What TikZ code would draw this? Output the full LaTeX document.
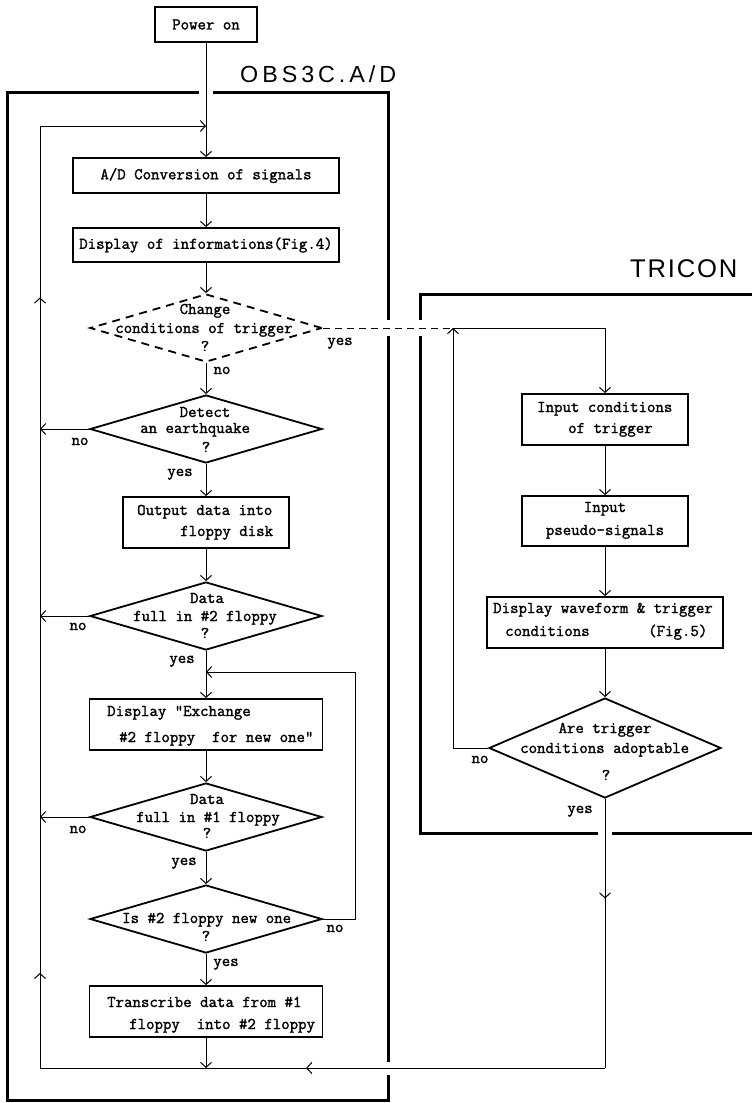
\documentclass[tikz,border=0pt]{standalone}
\usepackage{fontspec}
\newfontfamily\typefont[FakeBold=1.6]{Latin Modern Mono}
\newfontfamily\obsfont[LetterSpace=17]{Liberation Sans}
\newfontfamily\trifont[LetterSpace=7]{Liberation Sans}
\usetikzlibrary{shapes.geometric,arrows.meta,decorations.markings}

\tikzset{
  flow/.style={line width=1pt},
  arr/.style={flow, -{Straight Barb[length=5pt,width=11pt]}},
  midarr/.style={postaction={decorate}, decoration={markings,
      mark=at position #1 with {\arrow{Straight Barb[length=5pt,width=11pt]}}}},
  dashconn/.style={line width=1pt, dash pattern=on 7pt off 5pt},
  frame/.style={line width=3pt},
  procbox/.style={draw, rectangle, line width=1.8pt, inner sep=0pt,
      font=\typefont\fontsize{16.4}{23}\selectfont, align=center},
  decision/.style={draw, diamond, line width=1.8pt, inner sep=0pt,
      minimum width=232pt, minimum height=68pt},
  txt/.style={inner sep=0pt, font=\typefont\fontsize{16.4}{18}\selectfont},
}

\begin{document}
\begin{tikzpicture}[x=1pt, y=-1pt]
\useasboundingbox (0,0) rectangle (752,1103);

% ---- frames of the two programs
\draw[frame] (199,92) -- (7,92) -- (7,1100) -- (388,1100) -- (388,1075);
\draw[frame] (213,92) -- (388,92) -- (388,320);
\draw[frame] (388,336) -- (388,1062);
\node[inner sep=0pt, anchor=base west, font=\obsfont\fontsize{23.3}{28}\selectfont]
  (obsname) at (240,82) {OBS3C.A/D};

\draw[frame] (752,294) -- (420,294) -- (420,320);
\draw[frame] (420,336) -- (420,833) -- (598,833);
\draw[frame] (612,833) -- (752,833);
\node[inner sep=0pt, anchor=base west, font=\trifont\fontsize{25.6}{30}\selectfont]
  (triname) at (630,277) {TRICON};

% ---- OBS3C.A/D flow
\node[procbox, minimum width=102pt, minimum height=35pt] (power) at (206,24.5) {Power on};
\node[procbox, minimum width=266pt, minimum height=35pt] (ad) at (206,175.5) {A/D Conversion of signals};
\node[procbox, minimum width=266pt, minimum height=34pt] (disp) at (206,245) {Display of informations(Fig.4)};

\node[decision, dash pattern=on 8pt off 6pt] (d1) at (206,328) {};
\node[txt, anchor=base] (d1a) at (205,314) {Change};
\node[txt, anchor=base] (d1b) at (204,333) {conditions of trigger};
\node[txt, anchor=base] (d1c) at (205,351) {?};

\node[decision] (d2) at (206,429) {};
\node[txt, anchor=base] (d2a) at (205,417) {Detect};
\node[txt, anchor=base west] (d2b) at (140,433) {an earthquake};
\node[txt, anchor=base] (d2c) at (206,452) {?};

\node[procbox, minimum width=166pt, minimum height=51pt] (out) at (206,522.5) {};
\node[txt, anchor=base west] (outa) at (137,515) {Output data into};
\node[txt, anchor=base west] (outb) at (180,536) {floppy disk};

\node[decision] (d3) at (206,616) {};
\node[txt, anchor=base] (d3a) at (207,603) {Data};
\node[txt, anchor=base west] (d3b) at (133,621) {full in \#2 floppy};
\node[txt, anchor=base] (d3c) at (205,638) {?};

\node[procbox, minimum width=233pt, minimum height=51pt] (ex) at (206,724.5) {};
\node[txt, anchor=base west] (exa) at (107,716) {Display "Exchange};
\node[txt, anchor=base west] (exb) at (119,742) {\#2 floppy\ \ for new one"};

\node[decision] (d4) at (206,817) {};
\node[txt, anchor=base] (d4a) at (207,804) {Data};
\node[txt, anchor=base west] (d4b) at (136,822) {full in \#1 floppy};
\node[txt, anchor=base] (d4c) at (207,838) {?};

\node[decision] (d5) at (206,919) {};
\node[txt, anchor=base west] (d5a) at (122,923) {Is \#2 floppy new one};
\node[txt, anchor=base] (d5b) at (206,941) {?};

\node[procbox, minimum width=233pt, minimum height=51pt] (trans) at (206,1011.5) {};
\node[txt, anchor=base west] (transa) at (107,1007) {Transcribe data from \#1};
\node[txt, anchor=base west] (transb) at (129,1029) {floppy\ \ into \#2 floppy};

% ---- TRICON flow
\node[procbox, minimum width=166pt, minimum height=51pt] (in1) at (605,419.5) {};
\node[txt, anchor=base west] (in1a) at (537,412) {Input conditions};
\node[txt, anchor=base west] (in1b) at (568,433) {of trigger};

\node[procbox, minimum width=166pt, minimum height=50pt] (in2) at (605,521) {};
\node[txt, anchor=base] (in2a) at (605,512) {Input};
\node[txt, anchor=base] (in2b) at (605,535) {pseudo-signals};

\node[procbox, minimum width=236pt, minimum height=51pt] (wave) at (605,622.5) {};
\node[txt, anchor=base west] (wavea) at (493,613) {Display waveform \& trigger};
\node[txt, anchor=base west] (waveb) at (505,636) {conditions};
\node[txt, anchor=base west] (wavec) at (648,636) {(Fig.5)};

\node[decision, minimum height=100pt] (d6) at (605,748) {};
\node[txt, anchor=base] (d6a) at (605,733) {Are trigger};
\node[txt, anchor=base west] (d6b) at (520,753) {conditions adoptable};
\node[txt, anchor=base] (d6c) at (606,780) {?};

% ---- junction points of the loops
\coordinate (cTop) at (206,126);
\coordinate (cTL) at (40,126);
\coordinate (cBL) at (40,1068);
\coordinate (cBR) at (605,1068);
\coordinate (cEx) at (206,672);
\coordinate (cR) at (355,672);
\coordinate (tj) at (453,328);

% ---- connectors, OBS3C.A/D
\draw[arr] (power) -- (ad);
\draw[arr] (ad) -- (disp);
\draw[arr] (disp) -- (d1);
\draw[arr] (d1) -- (d2);
\draw[arr] (d2) -- (out);
\draw[arr] (out) -- (d3);
\draw[arr] (d3) -- (ex);
\draw[arr] (ex) -- (d4);
\draw[arr] (d4) -- (d5);
\draw[arr] (d5) -- (trans);
\draw[arr] (trans.south) -- (trans.south |- cBR);

\draw[arr] (d2.west) -- (d2.west -| cTL);
\draw[arr] (d3.west) -- (d3.west -| cTL);
\draw[arr] (d4.west) -- (d4.west -| cTL);
\draw[arr] (d5.east) -| (cR) -- (cEx);

\draw[flow, midarr=0.37] (d6.south) -- (cBR);
\draw[flow, midarr=0.529] (cBR) -- (cBL);
\draw[flow, postaction={decorate}, decoration={markings,
    mark=at position 0.101 with {\arrow{Straight Barb[length=5pt,width=11pt]}},
    mark=at position 0.818 with {\arrow{Straight Barb[length=5pt,width=11pt]}}}]
  (cBL) -- (cTL);
\draw[arr] (cTL) -- (cTop);

% ---- connectors, TRICON
\draw[dashconn] (d1.east) -- (tj);
\draw[arr] (d6.west) -| (tj);
\draw[arr] (tj) -| (in1);
\draw[arr] (in1) -- (in2);
\draw[arr] (in2) -- (wave);
\draw[arr] (wave) -- (d6);

% ---- branch labels
\tikzset{lbl/.style={txt, anchor=base}}
\node[lbl] (y1) at (340,345) {yes};
\node[lbl] (n1) at (222,374) {no};
\node[lbl] (n2) at (80,445) {no};
\node[lbl] (y2) at (180,476) {yes};
\node[lbl] (n3) at (78,630) {no};
\node[lbl] (y3) at (182,663) {yes};
\node[lbl] (n4) at (78,833) {no};
\node[lbl] (y4) at (184,865) {yes};
\node[lbl] (n5) at (335,932) {no};
\node[lbl] (y5) at (226,966) {yes};
\node[lbl] (n6) at (480,763) {no};
\node[lbl] (y6) at (580,813) {yes};
\end{tikzpicture}
\end{document}
